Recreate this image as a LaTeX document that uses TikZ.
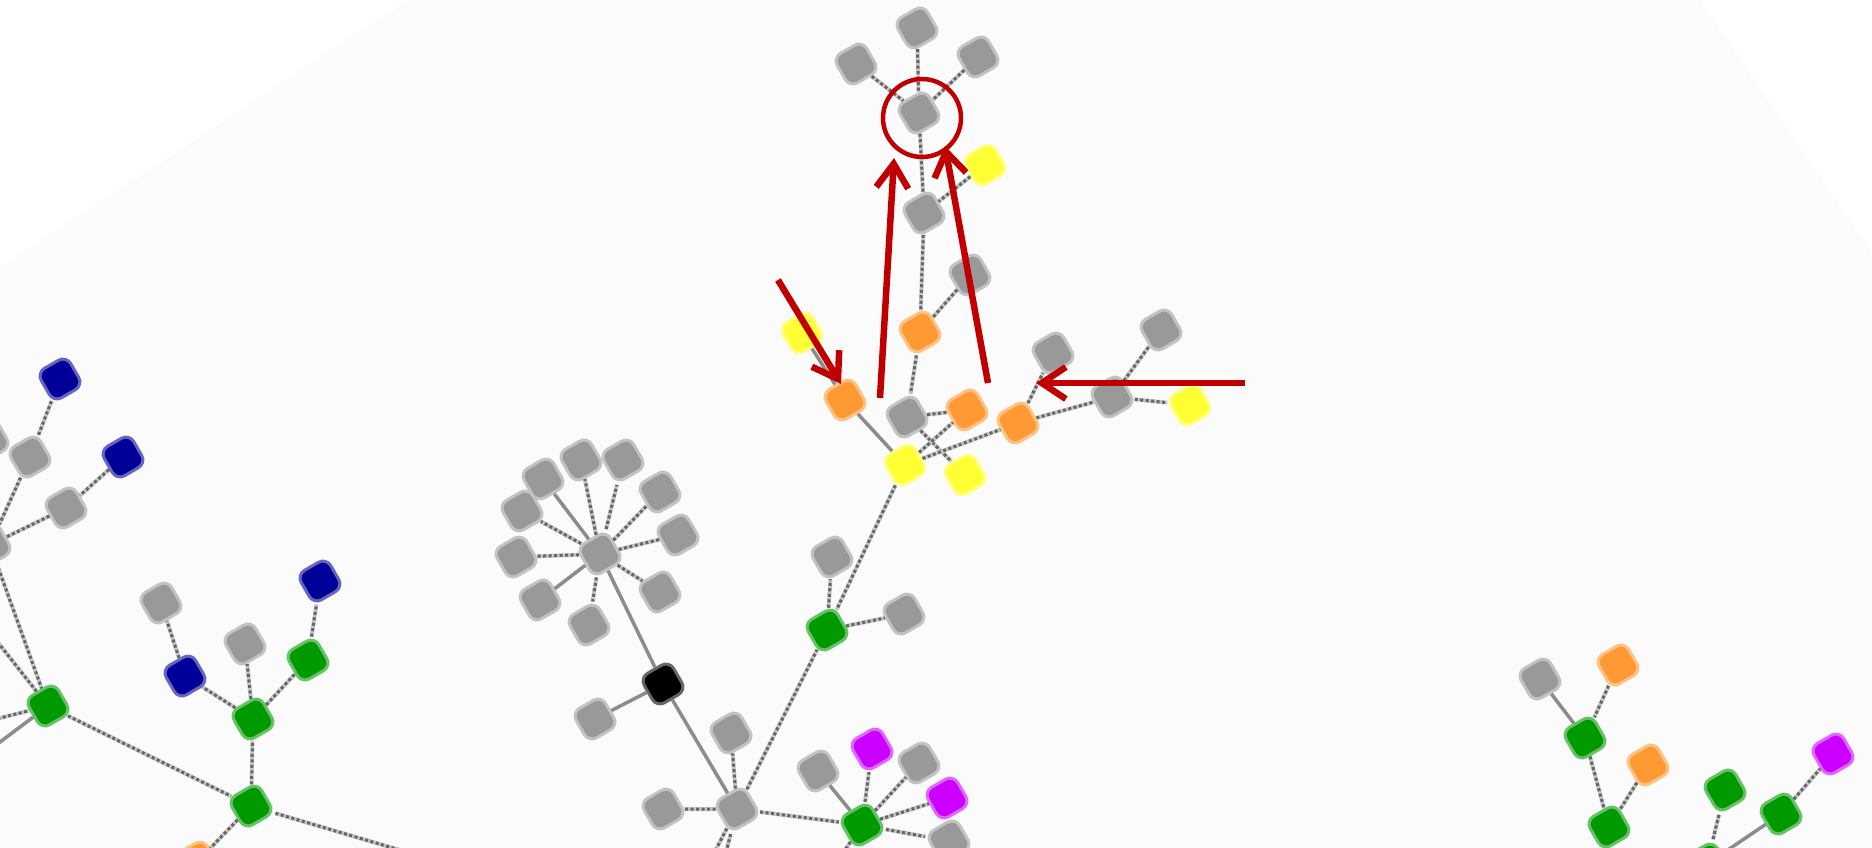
\documentclass[tikz,border=0pt]{standalone}
\usetikzlibrary{arrows.meta}
\definecolor{ngray}{HTML}{999999}
\definecolor{nyellow}{HTML}{FFFF33}
\definecolor{norange}{HTML}{FF9933}
\definecolor{ngreen}{HTML}{009900}
\definecolor{nblue}{HTML}{000099}
\definecolor{npurple}{HTML}{CC00FF}
\definecolor{redmark}{HTML}{C00000}
\definecolor{paper}{HTML}{FBFBFB}
\begin{document}
\begin{tikzpicture}[x=1pt, y=-1pt,
  vx/.style={rectangle, rounded corners=9pt, minimum size=34pt, inner sep=0pt, rotate=30, line width=3pt},
  gry/.style={vx, fill=ngray, draw=ngray!60},
  ylw/.style={vx, fill=nyellow, draw=nyellow!60},
  org/.style={vx, fill=norange, draw=norange!60},
  grn/.style={vx, fill=ngreen, draw=ngreen!60},
  blu/.style={vx, fill=nblue, draw=nblue!60},
  prp/.style={vx, fill=npurple, draw=npurple!60},
  blk/.style={vx, fill=black, draw=black!60},
  link/.style={draw=black!60, line width=3pt, dash pattern=on 3pt off 2.5pt, preaction={draw=black!22, line width=4pt, solid}},
  bond/.style={draw=black!45, line width=3.5pt},
  pointer/.style={draw=redmark, line width=6.5pt, -{Straight Barb[length=24pt, width=32pt]}}]
\useasboundingbox (0,0) rectangle (1872,848);
\clip (0,0) rectangle (1872,848);
\fill[white] (0,0) rectangle (1872,848);
\fill[paper] (0,268) -- (408,0) -- (1700,0) -- (1872,253) -- (1872,848) -- (0,848) -- cycle;

\node (a1) [gry] at (917,28) {};
\node (a2) [gry] at (856,64) {};
\node (a3) [gry] at (978,57) {};
\node (root) [gry] at (919,113) {};
\node (a4) [ylw] at (985,165) {};
\node (a5) [gry] at (924,213) {};
\node (a6) [gry] at (970,275) {};
\node (a7) [org] at (920,332) {};
\node (a8) [ylw] at (802,333) {};
\node (a9) [org] at (845,400) {};
\node (a10) [gry] at (907,417) {};
\node (a11) [org] at (967,410) {};
\node (a12) [org] at (1018,423) {};
\node (a13) [gry] at (1053,353) {};
\node (a14) [gry] at (1112,397) {};
\node (a15) [gry] at (1161,330) {};
\node (a16) [ylw] at (1190,405) {};
\node (a17) [ylw] at (905,465) {};
\node (a18) [ylw] at (965,475) {};

\node (s0) [gry] at (600,554) {};
\node (s1) [gry] at (543,479) {};
\node (s2) [gry] at (581,460) {};
\node (s3) [gry] at (623,460) {};
\node (s4) [gry] at (660,492) {};
\node (s5) [gry] at (678,535) {};
\node (s6) [gry] at (660,592) {};
\node (s7) [gry] at (589,625) {};
\node (s8) [gry] at (540,600) {};
\node (s9) [gry] at (516,557) {};
\node (s10) [gry] at (522,511) {};

\node (b1) [gry] at (832,557) {};
\node (b2) [grn] at (827,630) {};
\node (b3) [gry] at (904,614) {};
\node (bk) [blk] at (663,684) {};
\node (b4) [gry] at (595,719) {};
\node (b5) [gry] at (731,733) {};
\node (hub) [gry] at (737,809) {};
\node (b6) [gry] at (663,809) {};
\node (b7) [gry] at (818,771) {};
\node (b8) [prp] at (872,749) {};
\node (b9) [gry] at (919,763) {};
\node (b10) [prp] at (947,798) {};
\node (b11) [grn] at (862,825) {};
\node (b12) [gry] at (949,841) {};

\node (c0) [gry] at (-12,440) {};
\node (c1) [blu] at (60,379) {};
\node (c2) [gry] at (30,457) {};
\node (c3) [blu] at (123,457) {};
\node (c4) [gry] at (66,508) {};
\node (c5) [gry] at (-10,545) {};
\node (c6) [grn] at (48,706) {};
\node (c7) [gry] at (161,603) {};
\node (c8) [blu] at (185,676) {};
\node (c9) [gry] at (245,644) {};
\node (c10) [blu] at (320,581) {};
\node (c11) [grn] at (308,660) {};
\node (c12) [grn] at (253,719) {};
\node (c13) [grn] at (251,806) {};
\node (c14) [org] at (197,862) {};

\node (d1) [gry] at (1540,679) {};
\node (d2) [org] at (1618,665) {};
\node (d3) [grn] at (1585,738) {};
\node (d4) [org] at (1648,765) {};
\node (d5) [grn] at (1609,827) {};
\node (d6) [grn] at (1725,790) {};
\node (d7) [grn] at (1781,814) {};
\node (d8) [prp] at (1833,754) {};
\node (d9) [grn] at (1707,864) {};

\coordinate (l1) at (-30,607);
\coordinate (l2) at (-40,728);
\coordinate (l3) at (-40,772);
\coordinate (h1) at (700,880);
\coordinate (h2) at (718,884);
\coordinate (h3) at (830,872);
\coordinate (h4) at (420,856);

\draw[link] (a1) -- (root);
\draw[link] (a2) -- (root);
\draw[link] (a3) -- (root);
\draw[link] (root) -- (a5);
\draw[link] (a4) -- (a5);
\draw[link] (a5) -- (a7);
\draw[link] (a6) -- (a7);
\draw[link] (a7) -- (a10);
\draw[bond] (a8) -- (a9);
\draw[bond] (a9) -- (a17);
\draw[link] (a10) -- (a11);
\draw[link] (a10) -- (a18);
\draw[link] (a17) -- (a11);
\draw[link] (a17) -- (a12);
\draw[link] (a12) -- (a13);
\draw[link] (a12) -- (a14);
\draw[link] (a14) -- (a15);
\draw[link] (a14) -- (a16);
\draw[link] (a17) -- (b2);

\draw[bond] (s0) -- (s1);
\draw[link] (s0) -- (s2);
\draw[link] (s0) -- (s3);
\draw[link] (s0) -- (s4);
\draw[link] (s0) -- (s5);
\draw[link] (s0) -- (s6);
\draw[link] (s0) -- (s7);
\draw[bond] (s0) -- (s8);
\draw[link] (s0) -- (s9);
\draw[link] (s0) -- (s10);
\draw[bond] (s0) -- (bk);
\draw[bond] (bk) -- (b4);
\draw[bond] (bk) -- (hub);

\draw[link] (b2) -- (b1);
\draw[link] (b2) -- (b3);
\draw[link] (hub) -- (b2);
\draw[link] (hub) -- (b5);
\draw[link] (hub) -- (b6);
\draw[link] (hub) -- (b11);
\draw[link] (hub) -- (h1);
\draw[link] (hub) -- (h2);
\draw[bond] (b11) -- (b7);
\draw[link] (b11) -- (b8);
\draw[link] (b11) -- (b9);
\draw[link] (b11) -- (b10);
\draw[link] (b11) -- (b12);
\draw[link] (b11) -- (h3);

\draw[link] (c1) -- (c2);
\draw[link] (c2) -- (c5);
\draw[link] (c3) -- (c4);
\draw[link] (c4) -- (c5);
\draw[link] (c5) -- (c6);
\draw[link] (l1) -- (c6);
\draw[link] (l2) -- (c6);
\draw[bond] (l3) -- (c6);
\draw[link] (c6) -- (c13);
\draw[link] (c13) -- (c12);
\draw[link] (c13) -- (c14);
\draw[link] (c13) -- (h4);
\draw[link] (c12) -- (c8);
\draw[link] (c12) -- (c9);
\draw[link] (c12) -- (c11);
\draw[link] (c11) -- (c10);
\draw[link] (c8) -- (c7);

\draw[bond] (d1) -- (d3);
\draw[link] (d2) -- (d3);
\draw[link] (d3) -- (d5);
\draw[link] (d4) -- (d5);
\draw[link] (d6) -- (d9);
\draw[bond] (d7) -- (d9);
\draw[link] (d7) -- (d8);

\node (ring) [circle, draw=redmark, line width=4.5pt, minimum size=78pt] at (922,118) {};
\coordinate (p1s) at (778,280);
\coordinate (p1e) at (841,384);
\coordinate (p2s) at (880,398);
\coordinate (p2e) at (894,158);
\coordinate (p3s) at (988,383);
\coordinate (p3e) at (945,146);
\coordinate (p4s) at (1245,383);
\coordinate (p4e) at (1036,383);
\draw[pointer] (p1s) -- (p1e);
\draw[pointer] (p2s) -- (p2e);
\draw[pointer] (p3s) -- (p3e);
\draw[pointer] (p4s) -- (p4e);
\end{tikzpicture}
\end{document}
